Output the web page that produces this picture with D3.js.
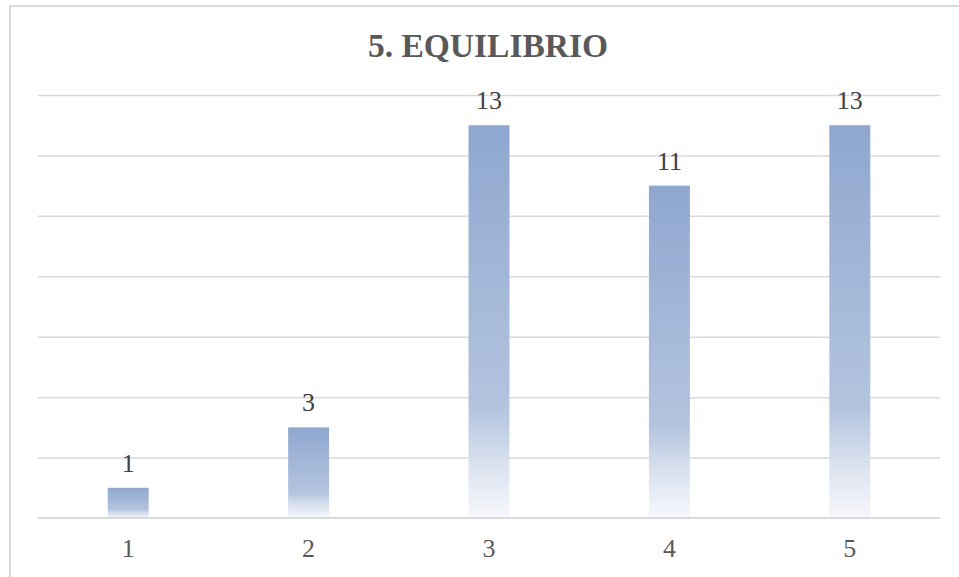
<!DOCTYPE html>
<html><head><meta charset="utf-8">
<script src="https://cdn.jsdelivr.net/npm/d3@7"></script>
<style>body{margin:0;background:#fff}svg{display:block}</style>
</head><body>
<script>
const title = "5. EQUILIBRIO";
const categories = ["1","2","3","4","5"];
const values = [1,3,13,11,13];
const yTicks = [0,2,4,6,8,10,12,14];

const W=959,H=577;
const svg=d3.select("body").append("svg").attr("width",W).attr("height",H);
svg.append("rect").attr("x",10).attr("y",6).attr("width",W).attr("height",H).attr("fill","none").attr("stroke","#d9d9d9").attr("stroke-width",2);

const x=d3.scaleBand().domain(categories).range([38,940]).paddingInner(0.773).paddingOuter(0.3865);
const y=d3.scaleLinear().domain([0,14]).range([518,95]);

const defs=svg.append("defs");
const g=defs.append("linearGradient").attr("id","bg").attr("x1",0).attr("y1",0).attr("x2",0).attr("y2",1);
[[0,"#8fa7cf"],[0.72,"#b3c4df"],[0.86,"#d9e1ee"],[1,"#f7f8fc"]].forEach(([o,c])=>g.append("stop").attr("offset",o).attr("stop-color",c));

const grid=svg.append("g").attr("transform","translate(38,0)")
  .call(d3.axisLeft(y).tickValues(yTicks.slice(1)).tickSize(-902).tickFormat(""));
grid.select(".domain").remove();
grid.selectAll("line").attr("stroke","#d9d9d9").attr("stroke-width",1.5);

svg.selectAll("rect.bar").data(values).enter().append("rect").attr("class","bar")
  .attr("x",(d,i)=>x(categories[i])).attr("width",x.bandwidth())
  .attr("y",d=>y(d)).attr("height",d=>y(0)-y(d)).attr("fill","url(#bg)");

const xa=svg.append("g").attr("transform","translate(0,518)").call(d3.axisBottom(x).tickSize(0).tickPadding(21));
xa.select(".domain").attr("stroke","#d9d9d9").attr("stroke-width",2).attr("d","M38,0H940");
xa.selectAll("text").attr("font-family","'Liberation Serif', serif").attr("font-size",26).attr("fill","#595959");

svg.selectAll("text.lbl").data(values).enter().append("text").attr("class","lbl")
  .attr("x",(d,i)=>x(categories[i])+x.bandwidth()/2).attr("y",d=>y(d)-16)
  .attr("text-anchor","middle").attr("font-family","'Liberation Serif', serif").attr("font-size",26).attr("fill","#404040").text(d=>d);

svg.append("text").attr("x",488).attr("y",57).attr("text-anchor","middle")
  .attr("font-family","'Liberation Serif', serif").attr("font-weight","bold").attr("font-size",33.5).attr("fill","#595959").text(title);
</script>
</body></html>
